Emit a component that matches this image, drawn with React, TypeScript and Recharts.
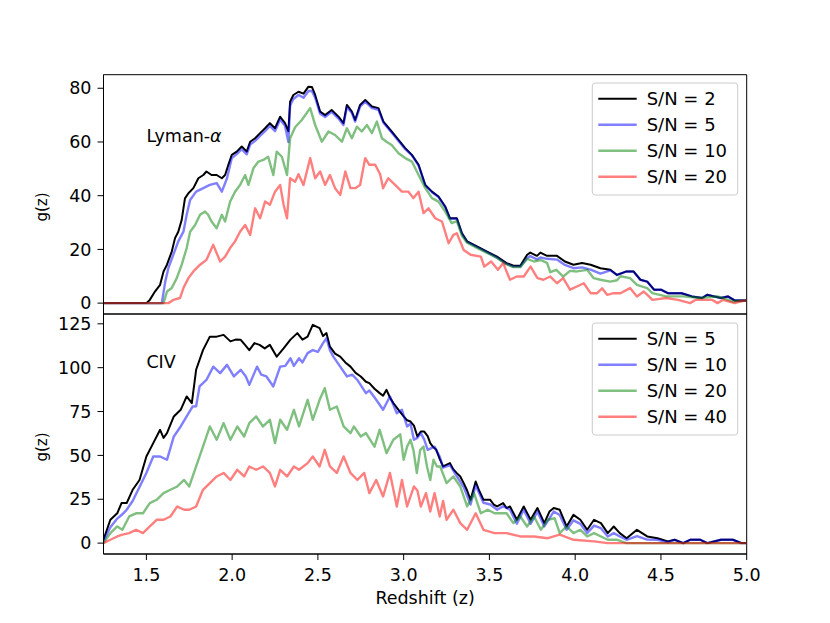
import { LineChart, Line, XAxis, YAxis, ReferenceArea, ReferenceDot } from "recharts";

const FONT = "DejaVu Sans";

const zTicks = [1.5, 2.0, 2.5, 3.0, 3.5, 4.0, 4.5, 5.0];
const lyaTicks = [0, 20, 40, 60, 80];
const civTicks = [0, 25, 50, 75, 100, 125];

// Lyman-alpha panel, [z, g(z)]
const lyaSN2: [number, number][] = [
  [1.25, 0], [1.5, 0], [1.52, 1.2], [1.55, 4.3], [1.58, 6.8], [1.6, 11.8], [1.62, 14.3], [1.648, 19.2],
  [1.667, 24.2], [1.686, 26.6], [1.706, 31], [1.716, 35.3], [1.725, 39], [1.745, 40.9], [1.774, 42.8],
  [1.803, 46.5], [1.832, 47.7], [1.85, 49], [1.88, 47.7], [1.91, 47.7], [1.94, 46.5], [1.959, 47.7],
  [1.978, 51.5], [1.998, 55.2], [2.027, 56.4], [2.056, 58.3], [2.085, 56.4], [2.105, 60.1], [2.134, 61.4],
  [2.163, 63.3], [2.192, 65.1], [2.22, 67], [2.25, 65.1], [2.28, 69.4], [2.308, 67], [2.328, 64],
  [2.338, 75], [2.357, 77.5], [2.387, 78.7], [2.416, 78], [2.445, 80.6], [2.465, 80.5], [2.484, 77.5],
  [2.513, 71.3], [2.542, 70], [2.58, 71.9], [2.62, 69.4], [2.649, 67], [2.669, 73.8], [2.698, 71.3],
  [2.717, 68.2], [2.746, 73.8], [2.776, 75.6], [2.815, 73.2], [2.853, 72.6], [2.882, 67.6], [2.93, 63.9],
  [2.97, 60.8], [3.009, 57.7], [3.048, 55.2], [3.087, 51.5], [3.126, 44], [3.165, 41.5], [3.203, 39.7],
  [3.242, 36], [3.27, 31.6], [3.31, 31.6], [3.34, 26], [3.37, 23], [3.43, 21], [3.486, 19.2], [3.544, 17.3],
  [3.6, 14.9], [3.64, 13.9], [3.68, 13.9], [3.72, 18], [3.738, 18.8], [3.777, 17.6], [3.797, 18.8],
  [3.836, 17.6], [3.894, 17.6], [3.94, 15.5], [3.99, 14.3], [4.04, 14.9], [4.09, 14.3], [4.147, 13],
  [4.205, 12.4], [4.244, 10.5], [4.3, 11.8], [4.34, 11.8], [4.38, 8.7], [4.42, 8], [4.46, 5], [4.5, 5],
  [4.54, 3.7], [4.62, 3.7], [4.68, 2.5], [4.74, 1.9], [4.77, 3.1], [4.81, 2.5], [4.85, 1.9], [4.89, 2.5],
  [4.93, 1], [5, 1],
];

const lyaSN5: [number, number][] = [
  [1.25, 0], [1.59, 0], [1.61, 8], [1.628, 13], [1.657, 18], [1.686, 23], [1.716, 26.6], [1.735, 32.9],
  [1.755, 38.4], [1.79, 41.5], [1.832, 42.8], [1.87, 44], [1.91, 44.7], [1.94, 41.5], [1.97, 46.5],
  [1.998, 54], [2.027, 55.5], [2.056, 57.3], [2.085, 55.4], [2.105, 59], [2.134, 60.4], [2.163, 62.3],
  [2.192, 64], [2.22, 66], [2.25, 64], [2.28, 68.4], [2.308, 66], [2.328, 60], [2.338, 73.5], [2.357, 76],
  [2.387, 77.5], [2.416, 76.5], [2.445, 79], [2.465, 79], [2.484, 76.5], [2.513, 70.5], [2.542, 69.3],
  [2.58, 71.2], [2.62, 68.7], [2.649, 66.3], [2.669, 73], [2.698, 70.8], [2.717, 67.6], [2.746, 73.2],
  [2.776, 75], [2.815, 72.6], [2.853, 72], [2.882, 67.2], [2.93, 63.5], [2.97, 60.4], [3.009, 57.3],
  [3.048, 55], [3.087, 51.2], [3.126, 43.8], [3.165, 41.3], [3.203, 39.5], [3.242, 35.8], [3.27, 31.4],
  [3.31, 31.4], [3.34, 25.8], [3.37, 22.8], [3.43, 20.8], [3.486, 19], [3.544, 17], [3.6, 14.6],
  [3.64, 13.6], [3.68, 13.6], [3.72, 16.8], [3.738, 17.5], [3.777, 16.3], [3.797, 17], [3.836, 16.5],
  [3.894, 16.2], [3.94, 14.2], [3.99, 13], [4.04, 13.3], [4.09, 12.5], [4.147, 11], [4.205, 12.2],
  [4.244, 10.5], [4.3, 11.8], [4.34, 11.8], [4.38, 8.7], [4.42, 8], [4.46, 5], [4.5, 5], [4.54, 3.7],
  [4.62, 3.7], [4.68, 2.5], [4.74, 1.9], [4.77, 3.1], [4.81, 2.5], [4.85, 1.9], [4.89, 2.5], [4.93, 1],
  [5, 1],
];

const lyaSN10: [number, number][] = [
  [1.25, 0], [1.6, 0], [1.62, 4.3], [1.648, 5.6], [1.677, 9.3], [1.706, 14.3], [1.735, 20.5], [1.755, 26.6],
  [1.784, 29.1], [1.813, 32.9], [1.842, 34.1], [1.86, 32.9], [1.88, 30.4], [1.91, 27.9], [1.94, 32.9],
  [1.959, 30.4], [1.988, 37.8], [2.017, 41.5], [2.046, 44], [2.076, 47.7], [2.095, 44], [2.124, 50.2],
  [2.153, 52.7], [2.182, 53.3], [2.21, 54.5], [2.24, 47.7], [2.26, 56.4], [2.29, 54.5], [2.32, 47.7],
  [2.338, 61.4], [2.367, 65.5], [2.406, 68.2], [2.455, 72.6], [2.484, 66.3], [2.523, 60.1], [2.562, 63.9],
  [2.6, 62.6], [2.64, 60.1], [2.669, 65.1], [2.698, 61.4], [2.727, 65.7], [2.756, 63.9], [2.786, 66.3],
  [2.815, 63.3], [2.844, 67.6], [2.873, 61.4], [2.9, 60.1], [2.93, 58.9], [2.97, 55.8], [3.009, 54],
  [3.048, 52.7], [3.087, 47.7], [3.126, 42.8], [3.165, 39.1], [3.203, 37.8], [3.242, 34.1], [3.28, 29.8],
  [3.31, 30.5], [3.34, 25], [3.37, 22.5], [3.43, 20.5], [3.486, 18.7], [3.544, 16.8], [3.6, 14.4],
  [3.64, 13.4], [3.68, 13.4], [3.72, 16.5], [3.76, 15.5], [3.8, 16], [3.836, 15], [3.855, 11.5],
  [3.89, 12.4], [3.93, 9.9], [3.97, 12], [4.01, 11.8], [4.07, 12.4], [4.108, 9.3], [4.147, 8.7],
  [4.205, 8], [4.244, 8.5], [4.264, 10], [4.32, 9.3], [4.36, 6.8], [4.42, 5.6], [4.45, 3.7], [4.53, 2.5],
  [4.63, 2.5], [4.73, 1.9], [4.83, 2.5], [4.92, 0.6], [5, 1],
];

const lyaSN20: [number, number][] = [
  [1.25, 0], [1.628, 0], [1.657, 1.2], [1.696, 1.9], [1.716, 5.6], [1.745, 9.3], [1.774, 11.8], [1.813, 14.3],
  [1.85, 16.1], [1.89, 21.7], [1.93, 15.5], [1.959, 17.3], [1.988, 20.5], [2.017, 23], [2.046, 26.6],
  [2.076, 29.1], [2.105, 25.4], [2.134, 35.3], [2.163, 31.6], [2.192, 37.8], [2.22, 36.6], [2.25, 41.5],
  [2.28, 44], [2.3, 36.6], [2.32, 31.6], [2.338, 46.5], [2.367, 45.2], [2.387, 48], [2.416, 44],
  [2.455, 54], [2.484, 46.5], [2.513, 49], [2.542, 44], [2.57, 47.7], [2.6, 42.8], [2.63, 40.3],
  [2.66, 49], [2.69, 42.8], [2.717, 42.8], [2.746, 44], [2.776, 54], [2.8, 51.5], [2.834, 51.5],
  [2.863, 48], [2.88, 42.8], [2.91, 46.5], [2.95, 44], [2.99, 41.5], [3.028, 41.5], [3.057, 39.1],
  [3.087, 41.5], [3.116, 33.5], [3.145, 35.3], [3.184, 31.6], [3.223, 30.4], [3.262, 22.3], [3.29, 25.4],
  [3.31, 26], [3.35, 19.8], [3.39, 18], [3.45, 17.3], [3.47, 13.6], [3.51, 15.5], [3.55, 12.4],
  [3.58, 14.9], [3.62, 8.7], [3.66, 9.9], [3.7, 9.9], [3.74, 13.6], [3.78, 9.3], [3.815, 8.7],
  [3.855, 9.9], [3.894, 7.4], [3.93, 9.3], [3.97, 5], [4.01, 6.2], [4.05, 7.4], [4.09, 3.7], [4.128, 3.7],
  [4.157, 5.5], [4.186, 3.1], [4.225, 3.7], [4.264, 3.7], [4.32, 5.6], [4.36, 2.5], [4.4, 4.3],
  [4.43, 2.5], [4.45, 1.2], [4.53, 1.9], [4.6, 1.2], [4.67, 0], [4.7, 1.2], [4.8, 1.2], [4.83, 0],
  [4.86, 1.2], [4.93, 0], [4.96, 0.6], [5, 1],
];

// CIV panel, [z, g(z)]
const civSN5: [number, number][] = [
  [1.25, 2], [1.29, 13.3], [1.33, 17], [1.355, 22.8], [1.385, 22.8], [1.42, 30.4], [1.46, 36], [1.5, 49.4],
  [1.54, 57], [1.58, 64.6], [1.6, 60], [1.62, 62.7], [1.66, 72.2], [1.7, 76], [1.735, 83.6], [1.765, 79.8],
  [1.79, 98.8], [1.83, 110], [1.87, 117.7], [1.91, 117.7], [1.95, 118.7], [1.99, 115], [2.02, 116],
  [2.05, 115.9], [2.075, 113], [2.1, 110], [2.13, 114], [2.16, 113], [2.19, 111], [2.22, 113],
  [2.26, 106.3], [2.3, 111], [2.34, 116], [2.38, 119.7], [2.41, 116], [2.44, 117.7], [2.47, 124.4],
  [2.51, 122.5], [2.53, 118], [2.55, 119.7], [2.57, 112], [2.6, 108], [2.63, 106.3], [2.66, 103],
  [2.69, 100.6], [2.72, 97], [2.75, 95], [2.78, 92], [2.8, 91.2], [2.83, 88], [2.86, 85.5], [2.88, 84],
  [2.9, 87.4], [2.92, 83], [2.94, 79.8], [2.97, 76], [3, 72.2], [3.02, 70], [3.04, 69.3], [3.06, 67],
  [3.08, 60.8], [3.1, 63.6], [3.12, 63.6], [3.14, 61], [3.155, 57], [3.17, 55], [3.19, 53.2], [3.21, 48],
  [3.23, 43.7], [3.27, 45.6], [3.29, 42], [3.31, 39.9], [3.33, 38], [3.35, 34.2], [3.37, 30], [3.39, 24.7],
  [3.42, 35.1], [3.44, 30], [3.465, 24.7], [3.505, 24.7], [3.525, 22], [3.545, 20.9], [3.58, 22.8],
  [3.6, 20], [3.62, 20.9], [3.66, 13.3], [3.7, 20.9], [3.74, 13.3], [3.78, 20], [3.82, 11.4], [3.85, 18],
  [3.875, 20], [3.91, 19], [3.95, 9.5], [3.99, 16.1], [4.03, 13.3], [4.07, 7.6], [4.11, 13.3], [4.15, 11.4],
  [4.19, 5.7], [4.225, 9.5], [4.26, 5.7], [4.3, 2.8], [4.36, 7.6], [4.42, 3.8], [4.48, 2.8], [4.54, 1],
  [4.58, 1.9], [4.63, 0], [4.67, 1.9], [4.73, 1.9], [4.77, 0], [4.85, 1.9], [4.92, 1.9], [4.97, 0], [5, 0],
];

const civSN10: [number, number][] = [
  [1.25, 1], [1.29, 9], [1.33, 14], [1.355, 16], [1.385, 19], [1.42, 24], [1.46, 32], [1.5, 40],
  [1.54, 49.4], [1.58, 49.4], [1.62, 47.5], [1.66, 60.8], [1.7, 66.5], [1.735, 72.2], [1.77, 77.9],
  [1.79, 78], [1.81, 89.3], [1.85, 93], [1.89, 100.6], [1.93, 96.9], [1.97, 101.6], [2.01, 95],
  [2.05, 98.8], [2.08, 95], [2.1, 90.2], [2.145, 100.6], [2.17, 96], [2.2, 95], [2.24, 89.3],
  [2.28, 100.6], [2.31, 101], [2.34, 105.4], [2.36, 101], [2.39, 105.4], [2.41, 103], [2.44, 108.3],
  [2.47, 110], [2.5, 109], [2.53, 114], [2.55, 116.8], [2.57, 110], [2.59, 106.3], [2.63, 100.6],
  [2.67, 95], [2.7, 96], [2.73, 93], [2.78, 85.5], [2.8, 87], [2.84, 81.7], [2.88, 76], [2.92, 83.6],
  [2.96, 74], [2.99, 76], [3.02, 66.5], [3.04, 68], [3.06, 58.9], [3.08, 60], [3.1, 62.7], [3.12, 59],
  [3.14, 53.2], [3.18, 55], [3.21, 49.4], [3.23, 43], [3.27, 44.5], [3.31, 38], [3.35, 32], [3.39, 22],
  [3.42, 33], [3.465, 23], [3.505, 22], [3.545, 19], [3.58, 21], [3.62, 19], [3.66, 11], [3.7, 19],
  [3.74, 11], [3.78, 18], [3.82, 9.5], [3.875, 18], [3.91, 16], [3.95, 7.6], [3.99, 13], [4.03, 11],
  [4.07, 5.7], [4.11, 10], [4.15, 8.5], [4.19, 3.8], [4.225, 5.7], [4.26, 3.8], [4.3, 1.9], [4.36, 4],
  [4.42, 2], [4.48, 1.9], [4.54, 0.5], [4.58, 1.9], [4.63, 0], [4.67, 1.9], [4.73, 1.9], [4.77, 0],
  [4.85, 1.9], [4.92, 1.9], [4.97, 0], [5, 0],
];

const civSN20: [number, number][] = [
  [1.25, 0], [1.29, 5.7], [1.33, 9.5], [1.36, 7.6], [1.4, 15.2], [1.44, 17], [1.48, 17], [1.52, 22.8],
  [1.56, 24.7], [1.6, 28.5], [1.64, 30.4], [1.68, 32.3], [1.72, 36], [1.75, 32.3], [1.79, 43.7], [1.83, 55],
  [1.87, 66.5], [1.91, 58.9], [1.95, 68.4], [1.99, 58.9], [2.03, 66.5], [2.07, 60.8], [2.1, 68.4],
  [2.14, 72.2], [2.18, 66.5], [2.22, 70.3], [2.25, 57], [2.28, 70.3], [2.32, 64.6], [2.36, 76],
  [2.39, 66.5], [2.44, 81.7], [2.47, 70.3], [2.51, 81.7], [2.54, 88.3], [2.57, 76], [2.61, 77.9],
  [2.65, 66.5], [2.69, 62.7], [2.71, 66.5], [2.75, 60.8], [2.78, 62.7], [2.83, 55], [2.86, 64.6],
  [2.9, 51.3], [2.94, 58.9], [2.98, 62], [3, 47.5], [3.02, 55], [3.04, 58.9], [3.057, 53], [3.077, 40],
  [3.096, 53], [3.116, 55], [3.136, 43.7], [3.155, 36], [3.174, 47.5], [3.194, 43.7], [3.213, 43.7],
  [3.25, 34.2], [3.29, 38], [3.33, 32.3], [3.37, 20.9], [3.41, 28.5], [3.45, 17], [3.49, 19], [3.53, 17],
  [3.56, 17], [3.6, 17], [3.64, 11.4], [3.68, 15.2], [3.72, 9.5], [3.76, 15.2], [3.8, 7.6], [3.84, 13.3],
  [3.88, 14.2], [3.91, 5.7], [3.95, 9.5], [3.99, 5.7], [4.03, 7.6], [4.07, 3.8], [4.11, 5.7], [4.15, 3.8],
  [4.19, 1.9], [4.245, 1.9], [4.3, 0], [5, 0],
];

const civSN40: [number, number][] = [
  [1.25, 0], [1.29, 1.9], [1.33, 3.8], [1.36, 4.8], [1.4, 5.7], [1.44, 7.6], [1.48, 5.7], [1.52, 9.5],
  [1.56, 13.3], [1.6, 13.3], [1.64, 15.2], [1.68, 20.9], [1.72, 19], [1.75, 19], [1.79, 20.9], [1.83, 30.4],
  [1.87, 34.2], [1.91, 38], [1.95, 40], [1.99, 36], [2.03, 41.8], [2.07, 38], [2.1, 43.7], [2.14, 41.8],
  [2.18, 43.7], [2.22, 40], [2.25, 32.3], [2.28, 41.8], [2.32, 38], [2.36, 43.7], [2.39, 41.8],
  [2.44, 45.6], [2.47, 49.4], [2.51, 43.7], [2.54, 53.2], [2.57, 43.7], [2.61, 40], [2.65, 49.4],
  [2.69, 40], [2.73, 36], [2.77, 40], [2.8, 28.5], [2.84, 36], [2.88, 26.6], [2.92, 40], [2.96, 20.9],
  [2.99, 36], [3.02, 20.9], [3.06, 32.3], [3.08, 30], [3.1, 20.9], [3.13, 28.5], [3.155, 18], [3.18, 28.5],
  [3.21, 15.2], [3.23, 24], [3.25, 13.3], [3.29, 19], [3.33, 11.4], [3.37, 7.6], [3.42, 17], [3.465, 7.6],
  [3.53, 5.7], [3.6, 5.7], [3.68, 3.8], [3.76, 3.8], [3.84, 2.8], [3.91, 4.8], [3.99, 1.9], [4.11, 1],
  [4.19, 0], [5, 0],
];

const lyaNames = ["S/N = 2", "S/N = 5", "S/N = 10", "S/N = 20"];
const civNames = ["S/N = 5", "S/N = 10", "S/N = 20", "S/N = 40"];

const colors = ["#000000", "#0000ff", "#008000", "#ff0000"];
const opacities = [1, 0.5, 0.5, 0.5];
const widths = [2, 2.4, 2.4, 2.4];

const toPoints = (pairs: [number, number][]) => pairs.map(([z, g]) => ({ z, g }));

const tickStyle = { fill: "#000", fontSize: 17.5, fontFamily: FONT };

function Panel({ series, yDomain, yTicks, tag, tagY, height, margin, showX }: any) {
  return (
    <LineChart width={830} height={height} margin={margin}>
      <XAxis
        dataKey="z"
        type="number"
        domain={[1.25, 5]}
        ticks={zTicks}
        interval={0}
        allowDataOverflow
        hide={!showX}
        height={69}
        tickSize={6}
        tickMargin={8.5}
        tick={tickStyle}
        tickFormatter={(v: number) => v.toFixed(1)}
        axisLine={{ stroke: "#000" }}
        tickLine={{ stroke: "#000" }}
      />
      <YAxis
        type="number"
        domain={yDomain}
        ticks={yTicks}
        interval={0}
        allowDataOverflow
        width={40}
        tickSize={6}
        tickMargin={6}
        tick={tickStyle}
        axisLine={{ stroke: "#000" }}
        tickLine={{ stroke: "#000" }}
      />
      {series.map((s: [number, number][], i: number) => (
        <Line
          key={i}
          data={toPoints(s)}
          dataKey="g"
          type="linear"
          stroke={colors[i]}
          strokeOpacity={opacities[i]}
          strokeWidth={widths[i]}
          strokeLinejoin="round"
          dot={false}
          isAnimationActive={false}
        />
      ))}
      <ReferenceArea x1={1.25} x2={5} y1={yDomain[0]} y2={yDomain[1]} fill="none" stroke="#000" strokeWidth={1} />
      <ReferenceDot
        x={1.5}
        y={tagY}
        r={0}
        shape={(p: any) => (
          <text x={p.cx} y={p.cy} fontSize={17.5} fontFamily={FONT} fill="#000">
            {tag}
          </text>
        )}
      />
    </LineChart>
  );
}

function LegendBox({ names, top }: { names: string[]; top: number }) {
  return (
    <g>
      <rect x={592.3} y={top} width={145.4} height={112} rx={3} fill="#fff" fillOpacity={0.8} stroke="#cccccc" strokeWidth={1} />
      {names.map((n, i) => {
        const cy = top + 15.7 + i * 26;
        return (
          <g key={n}>
            <line x1={598.3} x2={636.7} y1={cy} y2={cy} stroke={colors[i]} strokeOpacity={opacities[i]} strokeWidth={widths[i]} />
            <text x={646.7} y={cy + 6.6} fontSize={18} fontFamily={FONT} fill="#000">
              {n}
            </text>
          </g>
        );
      })}
    </g>
  );
}

export default function App() {
  return (
    <div style={{ position: "absolute", left: 0, top: 0, width: 830, height: 623, background: "#fff" }}>
      <div style={{ position: "absolute", left: 0, top: 0 }}>
        <Panel
          series={[lyaSN2, lyaSN5, lyaSN10, lyaSN20]}
          yDomain={[-4.05, 85.05]}
          yTicks={lyaTicks}
          tag={
            <>
              <tspan>Lyman-</tspan>
              <tspan fontStyle="italic">α</tspan>
            </>
          }
          tagY={60}
          height={320}
          margin={{ top: 74.7, right: 83.3, bottom: 6, left: 63.5 }}
          showX={false}
        />
      </div>
      <div style={{ position: "absolute", left: 0, top: 300 }}>
        <Panel
          series={[civSN5, civSN10, civSN20, civSN40]}
          yDomain={[-6.2, 130.6]}
          yTicks={civTicks}
          tag="CIV"
          tagY={100}
          height={323}
          margin={{ top: 14, right: 83.3, bottom: 0, left: 63.5 }}
          showX={true}
        />
      </div>
      <svg width={830} height={623} style={{ position: "absolute", left: 0, top: 0, pointerEvents: "none" }}>
        <LegendBox names={lyaNames} top={83} />
        <LegendBox names={civNames} top={323} />
        <text x={47} y={207} transform="rotate(-90 47 207)" textAnchor="middle" fontSize={15} fontFamily={FONT} fill="#000">
          g(z)
        </text>
        <text x={47} y={447} transform="rotate(-90 47 447)" textAnchor="middle" fontSize={15} fontFamily={FONT} fill="#000">
          g(z)
        </text>
        <text x={425.1} y={604} textAnchor="middle" fontSize={17.5} fontFamily={FONT} fill="#000">
          Redshift (z)
        </text>
      </svg>
    </div>
  );
}
